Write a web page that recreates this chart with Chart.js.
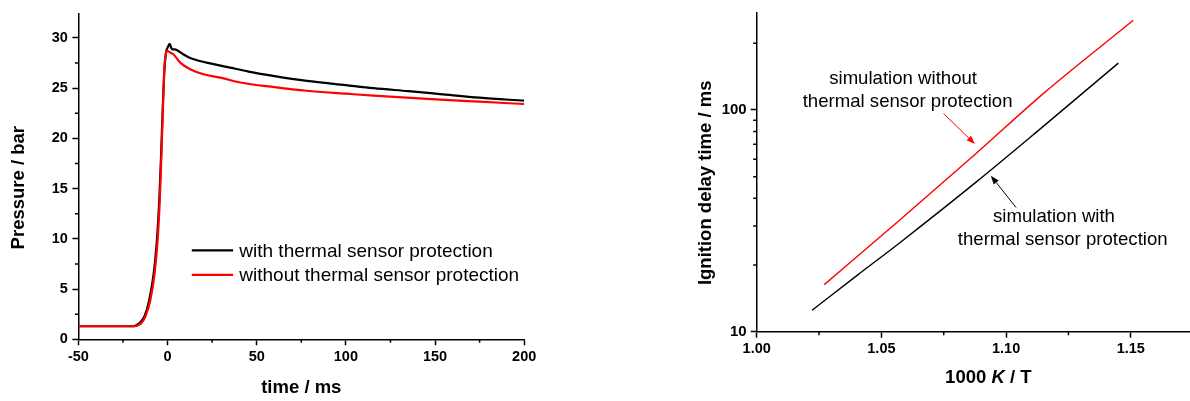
<!DOCTYPE html>
<html><head><meta charset="utf-8">
<script src="https://cdn.jsdelivr.net/npm/chart.js@4.4.1/dist/chart.umd.min.js"></script>
<style>
html,body{margin:0;padding:0;background:#fff;width:1190px;height:401px;overflow:hidden;}
canvas{position:absolute;top:0;}
#c1{left:0;} #c2{left:600px;}
</style></head><body>
<canvas id="c1" width="560" height="401"></canvas>
<canvas id="c2" width="590" height="401"></canvas>
<script>
const FAM = '"Liberation Sans", Arial, Helvetica, sans-serif';

// ---- Left chart: pressure traces ----
const seriesLabels = ['with thermal sensor protection', 'without thermal sensor protection'];
const timeWith = [-50, -30, -19, -17, -15, -12.8, -10.3, -7.8, -6.0, -4.7, -3.7, -2.7, -1.7, -0.8, 0.2, 1.2, 2.2, 3.2, 4.0, 6.0, 9.0, 12.7, 18.0, 23.9, 35.1, 45.4, 60.0, 78.1, 100.0, 115.5, 135.0, 152.9, 175.0, 200.0];
const pressureWith = [1.3, 1.3, 1.3, 1.45, 1.75, 2.35, 3.9, 6.5, 9.8, 13.7, 18.0, 23.0, 27.0, 28.6, 29.1, 29.4, 28.95, 28.85, 28.85, 28.7, 28.35, 28.0, 27.7, 27.46, 27.04, 26.65, 26.2, 25.73, 25.3, 25.0, 24.7, 24.41, 24.05, 23.75];
const timeWithout = [-50, -30, -18.5, -16.3, -14.3, -12.5, -9.7, -7.3, -5.6, -4.4, -3.5, -2.6, -1.8, -1.0, -0.3, 1.5, 3.4, 7.1, 12.7, 20.2, 29.5, 40.75, 60.0, 78.1, 100.0, 115.5, 152.9, 175.0, 200.0];
const pressureWithout = [1.3, 1.3, 1.3, 1.41, 1.7, 2.23, 3.87, 6.51, 9.8, 13.7, 18.0, 23.0, 27.0, 28.4, 28.7, 28.55, 28.35, 27.54, 26.88, 26.38, 26.05, 25.56, 25.1, 24.74, 24.45, 24.25, 23.86, 23.65, 23.42];
const timeTicks = [-50, 0, 50, 100, 150, 200];
const timeMinor = [-25, 25, 75, 125, 175];
const pressureTicks = [0, 5, 10, 15, 20, 25, 30];
const pressureMinor = [2.5, 7.5, 12.5, 17.5, 22.5, 27.5];

// ---- Right chart: ignition delay times ----
const invTempWith = [1.0222, 1.0404, 1.0574, 1.0882, 1.1136, 1.145];
const delayWith = [12.5, 18.0, 25.2, 47.5, 82.0, 162.7];
const invTempWithout = [1.0271, 1.0575, 1.0882, 1.1149, 1.1510];
const delayWithout = [16.3, 32.0, 64.0, 118.5, 253.8];
const invTempTicks = [1.00, 1.05, 1.10, 1.15];
const invTempMinor = [1.025, 1.075, 1.125];
const delayTicks = [10, 100];
const delayMinor = [20, 30, 40, 50, 60, 70, 80, 90, 200];

const pts = (xs, ys) => xs.map((x, i) => ({x, y: ys[i]}));
const tickFont = (s) => ({family: FAM, size: s, weight: 'bold'});
const titleFont = 'bold 18.5px ' + FAM;
const textFont = '18.6px ' + FAM;
const legendFont = '19px ' + FAM;

function drawText(ctx, t) {
  ctx.save();
  ctx.translate(t.x, t.y);
  if (t.rotate) ctx.rotate(t.rotate);
  ctx.fillStyle = t.color || '#000';
  ctx.textBaseline = 'middle';
  ctx.textAlign = 'left';
  const parts = t.parts || [{text: t.text, font: t.font}];
  let total = 0;
  parts.forEach(p => { ctx.font = p.font; p.w = ctx.measureText(p.text).width; total += p.w; });
  let x = t.align === 'left' ? 0 : -total / 2;
  parts.forEach(p => { ctx.font = p.font; ctx.fillText(p.text, x, 0); x += p.w; });
  ctx.restore();
}
function drawArrow(ctx, x0, y0, x1, y1, color) {
  const a = Math.atan2(y1 - y0, x1 - x0), L = 8.5, W = 3.2;
  ctx.save();
  ctx.strokeStyle = color; ctx.fillStyle = color; ctx.lineWidth = 1;
  ctx.beginPath(); ctx.moveTo(x0, y0);
  ctx.lineTo(x1 - L * Math.cos(a), y1 - L * Math.sin(a)); ctx.stroke();
  ctx.beginPath(); ctx.moveTo(x1, y1);
  ctx.lineTo(x1 - L * Math.cos(a) + W * Math.sin(a), y1 - L * Math.sin(a) - W * Math.cos(a));
  ctx.lineTo(x1 - L * Math.cos(a) - W * Math.sin(a), y1 - L * Math.sin(a) + W * Math.cos(a));
  ctx.closePath(); ctx.fill();
  ctx.restore();
}

const overlay = {
  id: 'overlay',
  afterDraw(chart, args, o) {
    const ctx = chart.ctx, sx = chart.scales.x, sy = chart.scales.y;
    // minor ticks
    ctx.save(); ctx.strokeStyle = '#000'; ctx.lineWidth = 1.5; ctx.beginPath();
    (o.minorX || []).forEach(v => { const p = sx.getPixelForValue(v); ctx.moveTo(p, sx.top); ctx.lineTo(p, sx.top + 3.5); });
    (o.minorY || []).forEach(v => { const p = sy.getPixelForValue(v); ctx.moveTo(sy.right, p); ctx.lineTo(sy.right - 3.5, p); });
    ctx.stroke(); ctx.restore();
    // axis titles
    (o.titles || []).forEach(t => drawText(ctx, t));
    // legend
    if (o.legend) {
      const lg = o.legend;
      chart.data.datasets.forEach((ds, i) => {
        const y = lg.y + i * lg.step;
        ctx.save(); ctx.strokeStyle = ds.borderColor; ctx.lineWidth = ds.borderWidth;
        ctx.beginPath(); ctx.moveTo(lg.x, y); ctx.lineTo(lg.x + lg.len, y); ctx.stroke(); ctx.restore();
        drawText(ctx, {text: ds.label, font: legendFont, x: lg.x + lg.len + 6.2, y: y + 1, align: 'left'});
      });
    }
    // annotations in data coordinates
    (o.notes || []).forEach(n => drawText(ctx, {text: n.text, font: textFont, x: sx.getPixelForValue(n.xv), y: sy.getPixelForValue(n.yv)}));
    (o.arrows || []).forEach(a => drawArrow(ctx, sx.getPixelForValue(a.x0), sy.getPixelForValue(a.y0), sx.getPixelForValue(a.x1), sy.getPixelForValue(a.y1), a.color));
  }
};

function axis(extra) {
  return Object.assign({
    grid: {display: true, drawOnChartArea: false, drawTicks: true, tickLength: 6, tickWidth: 1.5, tickColor: '#000', color: '#000'},
    border: {display: true, color: '#000', width: 1.5},
  }, extra);
}

new Chart(document.getElementById('c1'), {
  type: 'scatter',
  data: {datasets: [
    {label: seriesLabels[0], data: pts(timeWith, pressureWith), showLine: true, borderColor: '#000000', borderWidth: 2.2, pointRadius: 0, cubicInterpolationMode: 'monotone', order: 2},
    {label: seriesLabels[1], data: pts(timeWithout, pressureWithout), showLine: true, borderColor: '#ff0000', borderWidth: 2.2, pointRadius: 0, cubicInterpolationMode: 'monotone', order: 1}
  ]},
  options: {
    responsive: false, animation: false, devicePixelRatio: 1,
    layout: {padding: {left: 0, top: 10, right: 35.8, bottom: 0}},
    plugins: {legend: {display: false}, tooltip: {enabled: false},
      overlay: {
        minorX: timeMinor, minorY: pressureMinor,
        titles: [
          {text: 'Pressure / bar', font: titleFont, x: 19, y: 187.7, rotate: -Math.PI / 2},
          {text: 'time / ms', font: titleFont, x: 301.3, y: 387.5}
        ],
        legend: {x: 191.8, y: 250.3, step: 24.5, len: 41.3}
      }},
    scales: {
      x: axis({type: 'linear', min: -50, max: 200,
        afterFit(s) { s.height = 61.7; },
        afterBuildTicks(s) { s.ticks = timeTicks.map(v => ({value: v})); },
        ticks: {font: tickFont(14.5), color: '#000', padding: 2.7, maxRotation: 0, callback: v => String(v)}}),
      y: axis({type: 'linear', min: 0, max: 32.45,
        afterFit(s) { s.width = 78.4; },
        afterBuildTicks(s) { s.ticks = pressureTicks.map(v => ({value: v})); },
        ticks: {font: tickFont(14.5), color: '#000', padding: 4.6, callback: v => String(v)}})
    }
  },
  plugins: [overlay]
});

new Chart(document.getElementById('c2'), {
  type: 'scatter',
  data: {datasets: [
    {label: 'simulation with thermal sensor protection', data: pts(invTempWith, delayWith), showLine: true, borderColor: '#000000', borderWidth: 1.4, pointRadius: 0, cubicInterpolationMode: 'monotone', order: 2},
    {label: 'simulation without thermal sensor protection', data: pts(invTempWithout, delayWithout), showLine: true, borderColor: '#ff0000', borderWidth: 1.4, pointRadius: 0, cubicInterpolationMode: 'monotone', order: 1}
  ]},
  options: {
    responsive: false, animation: false, devicePixelRatio: 1,
    layout: {padding: {left: 0, top: 9.3, right: 0, bottom: 0}},
    plugins: {legend: {display: false}, tooltip: {enabled: false},
      overlay: {
        minorX: invTempMinor, minorY: delayMinor,
        titles: [
          {text: 'Ignition delay time / ms', font: titleFont, x: 105.5, y: 182.8, rotate: -Math.PI / 2},
          {parts: [{text: '1000 ', font: titleFont}, {text: 'K', font: 'italic ' + titleFont}, {text: ' / T', font: titleFont}], x: 388.3, y: 378.3}
        ],
        notes: [
          {text: 'simulation without', xv: 1.0587, yv: 138.0},
          {text: 'thermal sensor protection', xv: 1.0605, yv: 108.5},
          {text: 'simulation with', xv: 1.1192, yv: 32.8},
          {text: 'thermal sensor protection', xv: 1.1227, yv: 25.9}
        ],
        arrows: [
          {x0: 1.0749, y0: 96.4, x1: 1.0875, y1: 70.3, color: '#ff0000'},
          {x0: 1.1040, y0: 36.3, x1: 1.0939, y1: 50.5, color: '#000000'}
        ]
      }},
    scales: {
      x: axis({type: 'linear', min: 1.0, max: 1.17374,
        afterFit(s) { s.height = 69.3; },
        afterBuildTicks(s) { s.ticks = invTempTicks.map(v => ({value: v})); },
        ticks: {font: tickFont(14.5), color: '#000', padding: 2.9, maxRotation: 0, callback: v => Number(v).toFixed(2)}}),
      y: axis({type: 'logarithmic', min: 10, max: 273.8,
        afterFit(s) { s.width = 156.7; },
        afterBuildTicks(s) { s.ticks = delayTicks.map(v => ({value: v})); },
        ticks: {font: tickFont(15), color: '#000', padding: 4, callback: v => String(v)}})
    }
  },
  plugins: [overlay]
});
</script>
</body></html>
